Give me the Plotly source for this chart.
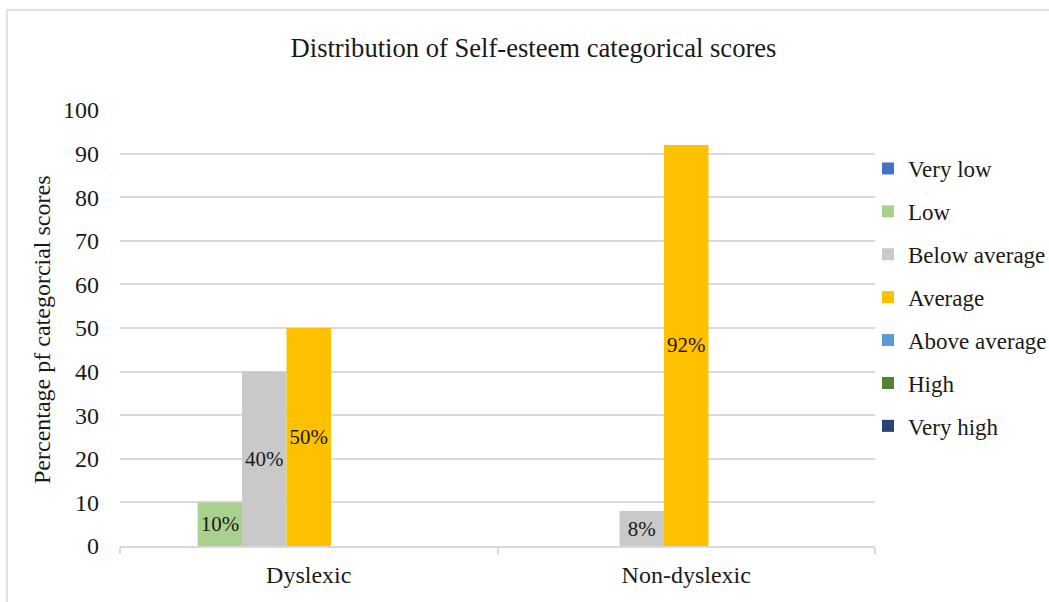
import plotly.graph_objects as go

# Groups on the x axis and the seven self-esteem categories
groups = ["Dyslexic", "Non-dyslexic"]
categories = ["Very low", "Low", "Below average", "Average",
              "Above average", "High", "Very high"]

# Percentage of each group falling in each category
very_low = [0, 0]
low = [10, 0]
below_average = [40, 8]
average = [50, 92]
above_average = [0, 0]
high = [0, 0]
very_high = [0, 0]

series = [very_low, low, below_average, average, above_average, high, very_high]
colors = ["#4472C4", "#A9D18E", "#C9C9C9", "#FFC000",
          "#5B9BD5", "#548235", "#264478"]

FONT = "Liberation Serif, Times New Roman, serif"
INK = "#1a1a1a"

fig = go.Figure()
for name, vals, col in zip(categories, series, colors):
    labels = [f"{v}%" if v > 0 else "" for v in vals]
    fig.add_trace(go.Bar(
        name=name, x=groups, y=vals, marker_color=col, marker_line_width=0,
        text=labels, textposition="inside", insidetextanchor="middle",
        textangle=0, textfont=dict(family=FONT, size=21, color=INK),
        legendgroup=name, cliponaxis=False,
    ))

fig.update_layout(
    width=1049, height=602,
    margin=dict(l=120, r=174, t=110, b=56, autoexpand=False),
    paper_bgcolor="white", plot_bgcolor="white",
    barmode="group", bargap=0.176, bargroupgap=0,
    uniformtext=dict(mode="show", minsize=8),
    font=dict(family=FONT, size=24, color=INK),
    title=dict(text="Distribution of Self-esteem categorical scores",
               x=533.5 / 1049, xref="container", xanchor="center",
               y=1 - 48 / 602, yref="container", yanchor="middle",
               font=dict(family=FONT, size=26.6, color=INK)),
    showlegend=True,
    legend=dict(x=868 / 1049, xref="container", xanchor="left",
                y=1 - 297.5 / 602, yref="container", yanchor="middle",
                font=dict(family=FONT, size=23, color=INK),
                tracegroupgap=10, itemwidth=30, bgcolor="rgba(0,0,0,0)"),
    xaxis=dict(showgrid=False, showline=True, linecolor="#D9D9D9", linewidth=1.5,
               ticks="outside", tickson="boundaries", ticklen=6,
               tickcolor="#D9D9D9", tickwidth=1.5, ticklabelstandoff=6,
               tickfont=dict(family=FONT, size=24, color=INK),
               fixedrange=True),
    yaxis=dict(range=[0, 100], dtick=10, showgrid=True, gridcolor="#D9D9D9",
               gridwidth=1.5, zeroline=False, showline=False, ticks="",
               ticklabelstandoff=20,
               tickfont=dict(family=FONT, size=24, color=INK),
               fixedrange=True),
    annotations=[dict(text="Percentage pf categorcial scores", textangle=-90,
                      xref="paper", yref="paper",
                      x=(42 - 120) / 755, y=(546 - 330) / 436,
                      xanchor="center", yanchor="middle", showarrow=False,
                      font=dict(family=FONT, size=24, color=INK))],
    shapes=[dict(type="rect", xref="paper", yref="paper",
                 x0=(7 - 120) / 755, x1=1.4, y0=-0.3, y1=(546 - 10) / 436,
                 line=dict(color="#D9D9D9", width=1.5), layer="below")],
)

fig.write_html("out.html", config={"displayModeBar": False})
